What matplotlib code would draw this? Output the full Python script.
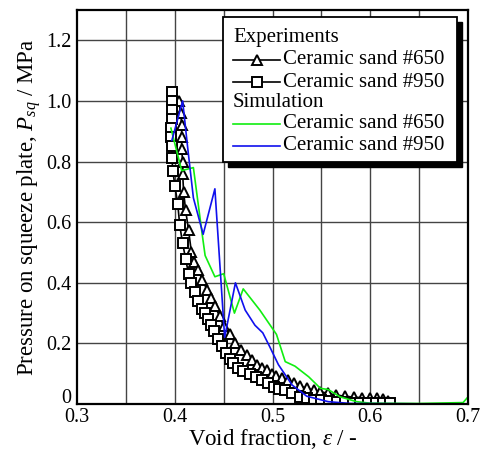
import matplotlib
matplotlib.use("Agg")
import matplotlib.pyplot as plt
from matplotlib.patches import Rectangle
from matplotlib.lines import Line2D
import matplotlib.transforms as mtransforms

plt.rcParams['font.family'] = ['Liberation Serif', 'DejaVu Serif']
plt.rcParams['mathtext.fontset'] = 'custom'
plt.rcParams['mathtext.rm'] = 'Liberation Serif'
plt.rcParams['mathtext.it'] = 'Liberation Serif:italic'

# Experiments: Ceramic sand #650 (triangles)
exp650_x = [0.404, 0.406, 0.407, 0.407, 0.407, 0.408, 0.408, 0.409, 0.411, 0.414, 0.417, 0.420,
            0.424, 0.428, 0.433, 0.437, 0.441, 0.446, 0.450, 0.456, 0.462, 0.468, 0.474, 0.479,
            0.484, 0.489, 0.494, 0.499, 0.504, 0.510, 0.516, 0.522, 0.528, 0.535, 0.542, 0.549,
            0.557, 0.565, 0.574, 0.583, 0.592, 0.600, 0.607, 0.613, 0.618]
exp650_y = [1.00, 0.96, 0.92, 0.88, 0.84, 0.80, 0.76, 0.70, 0.64, 0.575, 0.50, 0.47,
            0.443, 0.41, 0.377, 0.35, 0.322, 0.29, 0.256, 0.23, 0.201, 0.18, 0.162, 0.145,
            0.129, 0.12, 0.112, 0.10, 0.092, 0.085, 0.078, 0.07, 0.06, 0.052, 0.046, 0.041,
            0.035, 0.03, 0.026, 0.023, 0.021, 0.02, 0.019, 0.018, 0.01]

# Experiments: Ceramic sand #950 (squares)
exp950_x = [0.397, 0.397, 0.397, 0.397, 0.396, 0.396, 0.397, 0.397, 0.398, 0.400, 0.403, 0.405,
            0.408, 0.411, 0.414, 0.417, 0.421, 0.424, 0.428, 0.431, 0.434, 0.437, 0.440, 0.444,
            0.448, 0.452, 0.456, 0.460, 0.465, 0.470, 0.477, 0.483, 0.489, 0.495, 0.501, 0.507,
            0.513, 0.520, 0.528, 0.535, 0.542, 0.550, 0.558, 0.566, 0.574, 0.582, 0.590, 0.598,
            0.606, 0.613, 0.620]
exp950_y = [1.03, 1.00, 0.97, 0.94, 0.91, 0.88, 0.85, 0.81, 0.77, 0.72, 0.66, 0.59,
            0.53, 0.48, 0.43, 0.40, 0.37, 0.34, 0.315, 0.30, 0.28, 0.26, 0.24, 0.215,
            0.19, 0.17, 0.15, 0.135, 0.12, 0.11, 0.10, 0.09, 0.08, 0.07, 0.058, 0.05,
            0.045, 0.035, 0.025, 0.02, 0.015, 0.012, 0.01, 0.008, 0.006, 0.005, 0.004, 0.003,
            0.003, 0.002, 0.002]

# Simulation: Ceramic sand #650 (green)
sim650_x = [0.396, 0.407, 0.419, 0.428, 0.431, 0.441, 0.450, 0.461, 0.470, 0.487, 0.504,
            0.513, 0.523, 0.537, 0.549, 0.557, 0.569, 0.586, 0.600, 0.650, 0.695, 0.699]
sim650_y = [0.91, 0.77, 0.78, 0.56, 0.49, 0.42, 0.43, 0.30, 0.38, 0.31, 0.23,
            0.14, 0.125, 0.09, 0.052, 0.048, 0.024, 0.008, 0.003, 0.002, 0.005, 0.02]

# Simulation: Ceramic sand #950 (blue)
sim950_x = [0.397, 0.408, 0.413, 0.419, 0.429, 0.441, 0.451, 0.462, 0.472, 0.482, 0.490,
            0.497, 0.506, 0.520, 0.535, 0.557, 0.580, 0.700]
sim950_y = [0.87, 1.00, 0.85, 0.68, 0.56, 0.71, 0.22, 0.40, 0.31, 0.26, 0.235,
            0.19, 0.13, 0.063, 0.026, 0.008, 0.002, 0.0]

x_ticks = [0.3, 0.4, 0.5, 0.6, 0.7]
x_ticklabels = ['0.3', '0.4', '0.5', '0.6', '0.7']
y_ticks = [0, 0.2, 0.4, 0.6, 0.8, 1.0, 1.2]
y_ticklabels = ['0', '0.2', '0.4', '0.6', '0.8', '1.0', '1.2']

GREEN = '#11ee11'
BLUE = '#1010ee'

fig = plt.figure(figsize=(4.88, 4.51), dpi=100)
ax = fig.add_axes([0.158, 0.104, 0.801, 0.874])

ax.set_xlim(0.3, 0.7)
ax.set_ylim(0, 1.3)
for gx in [0.35, 0.4, 0.45, 0.5, 0.55, 0.6, 0.65]:
    ax.axvline(gx, color='#444444', lw=1.0, zorder=1)
for gy in [0.2, 0.4, 0.6, 0.8, 1.0, 1.2]:
    ax.axhline(gy, color='#444444', lw=1.0, zorder=1)

ax.plot(exp650_x, exp650_y, color='black', lw=1.2, marker='^', ms=7,
        mfc='white', mec='black', mew=1.4, zorder=3)
ax.plot(exp950_x, exp950_y, color='black', lw=1.2, marker='s', ms=7.3,
        mfc='white', mec='black', mew=1.4, zorder=3)
ax.plot(sim650_x, sim650_y, color=GREEN, lw=1.2, zorder=4)
ax.plot(sim950_x, sim950_y, color=BLUE, lw=1.2, zorder=4)

ax.set_xticks(x_ticks)
ax.set_xticklabels(x_ticklabels)
ax.set_yticks(y_ticks)
ax.set_yticklabels(y_ticklabels)
ax.tick_params(length=0, labelsize=14.5, pad=4)
ax.tick_params(axis='x', pad=3)
# the "0" label sits just above the x axis in the reference
zero_lab = ax.get_yticklabels()[0]
zero_lab.set_transform(zero_lab.get_transform() +
                       mtransforms.ScaledTranslation(0, 6 / 72, fig.dpi_scale_trans))
for s in ax.spines.values():
    s.set_linewidth(1.6)
    s.set_zorder(6)

ax.set_xlabel(r'Void fraction, $\varepsilon$ / -', fontsize=16.5, labelpad=0)
ax.set_ylabel(r'Pressure on squeeze plate, $P_{sq}$ / MPa', fontsize=16.5, labelpad=2)

# Legend (drawn in axes coordinates)
lx0, lx1, ly0, ly1 = 0.373, 0.972, 0.614, 0.983
tr = ax.transAxes
shadow = Rectangle((lx0 + 0.013, ly0 - 0.013), lx1 - lx0, ly1 - ly0, transform=tr,
                   facecolor='black', edgecolor='black', zorder=7, clip_on=False)
box = Rectangle((lx0, ly0), lx1 - lx0, ly1 - ly0, transform=tr,
                facecolor='white', edgecolor='black', lw=1.3, zorder=8, clip_on=False)
ax.add_patch(shadow)
ax.add_patch(box)

hx0, hx1, tx = 0.399, 0.52, 0.527
rows = [0.929, 0.873, 0.817, 0.764, 0.711, 0.655]
fs = 15
ax.text(hx0, rows[0], 'Experiments', transform=tr, fontsize=fs, va='center', ha='left', zorder=9)
ax.add_line(Line2D([hx0, hx1], [rows[1]] * 2, transform=tr, color='black', lw=1.2, zorder=9))
ax.add_line(Line2D([(hx0 + hx1) / 2], [rows[1]], transform=tr, marker='^', ms=7, mfc='white',
                   mec='black', mew=1.4, zorder=10))
ax.text(tx, rows[1], 'Ceramic sand #650', transform=tr, fontsize=fs, va='center', ha='left', zorder=9)
ax.add_line(Line2D([hx0, hx1], [rows[2]] * 2, transform=tr, color='black', lw=1.2, zorder=9))
ax.add_line(Line2D([(hx0 + hx1) / 2], [rows[2]], transform=tr, marker='s', ms=7, mfc='white',
                   mec='black', mew=1.4, zorder=10))
ax.text(tx, rows[2], 'Ceramic sand #950', transform=tr, fontsize=fs, va='center', ha='left', zorder=9)
ax.text(hx0, rows[3], 'Simulation', transform=tr, fontsize=fs, va='center', ha='left', zorder=9)
ax.add_line(Line2D([hx0, hx1], [rows[4]] * 2, transform=tr, color=GREEN, lw=1.2, zorder=9))
ax.text(tx, rows[4], 'Ceramic sand #650', transform=tr, fontsize=fs, va='center', ha='left', zorder=9)
ax.add_line(Line2D([hx0, hx1], [rows[5]] * 2, transform=tr, color=BLUE, lw=1.2, zorder=9))
ax.text(tx, rows[5], 'Ceramic sand #950', transform=tr, fontsize=fs, va='center', ha='left', zorder=9)

fig.savefig('out.png', dpi=100)
